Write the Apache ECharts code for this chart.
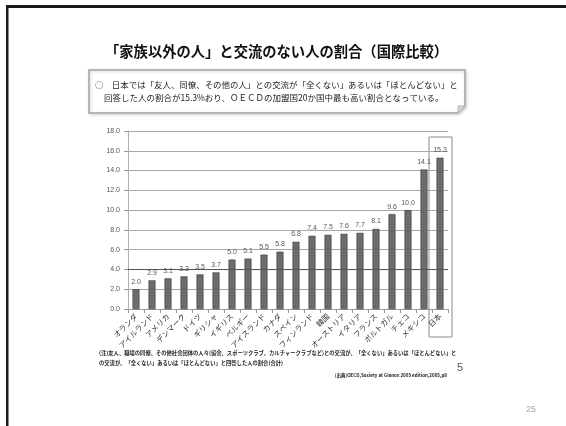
<!DOCTYPE html>
<html>
<head>
<meta charset="utf-8">
<script src="https://cdn.jsdelivr.net/npm/echarts@6/dist/echarts.min.js"></script>
<style>
  html, body { margin: 0; padding: 0; background: #ffffff; }
  #chart { width: 566px; height: 426px; }
</style>
</head>
<body>
<div id="chart"></div>
<script>
// 「家族以外の人」と交流のない人の割合（%）
const countries = ['オランダ', 'アイルランド', 'アメリカ', 'デンマーク', 'ドイツ', 'ギリシャ', 'イギリス', 'ベルギー', 'アイスランド', 'カナダ', 'スペイン', 'フィンランド', '韓国', 'オーストリア', 'イタリア', 'フランス', 'ポルトガル', 'チェコ', 'メキシコ', '日本'];
const shares = [2.0, 2.9, 3.1, 3.3, 3.5, 3.7, 5.0, 5.1, 5.5, 5.8, 6.8, 7.4, 7.5, 7.6, 7.7, 8.1, 9.6, 10.0, 14.1, 15.3];
const yTicks = [0, 2, 4, 6, 8, 10, 12, 14, 16, 18];

const titleText = '「家族以外の人」と交流のない人の割合（国際比較）';
const summaryLines = [
  '○　日本では「友人、同僚、その他の人」との交流が「全くない」あるいは「ほとんどない」と',
  '回答した人の割合が15.3%おり、ＯＥＣＤの加盟国20か国中最も高い割合となっている。'
];
const noteLines = [
  '(注)友人、職場の同僚、その他社会団体の人々(協会、スポーツクラブ、カルチャークラブなど)との交流が、「全くない」あるいは「ほとんどない」と',
  'の交流が、「全くない」あるいは「ほとんどない」と回答した人の割合(合計)'
];
const sourceText = '(出典)OECD,Society at Glance:2005 edition,2005,p8';

const jp = '"Noto Sans CJK JP", "Noto Sans", sans-serif';
const chart = echarts.init(document.getElementById('chart'), null, { renderer: 'canvas' });

chart.setOption({
  animation: false,
  backgroundColor: '#ffffff',
  textStyle: { fontFamily: jp },
  grid: { left: 128, right: 118, top: 131, bottom: 117, containLabel: false },
  xAxis: {
    type: 'category',
    data: countries,
    axisLine: { lineStyle: { color: '#9a9a9a', width: 1 } },
    axisTick: { show: true, length: 4, lineStyle: { color: '#9a9a9a' } },
    axisLabel: {
      interval: 0,
      rotate: 45,
      fontSize: 7.5,
      color: '#333',
      margin: 6,
      fontFamily: jp
    }
  },
  yAxis: {
    type: 'value',
    min: yTicks[0],
    max: yTicks[yTicks.length - 1],
    interval: 2,
    axisLine: { show: true, lineStyle: { color: '#b0b0b0', width: 1 } },
    axisTick: { show: true, length: 4, lineStyle: { color: '#9a9a9a' } },
    axisLabel: {
      fontSize: 7,
      color: '#555',
      margin: 8,
      formatter: v => v.toFixed(1),
      fontFamily: '"Liberation Sans", sans-serif'
    },
    splitLine: { lineStyle: { color: '#a8a8a8', width: 1 } }
  },
  series: [{
    type: 'bar',
    data: shares,
    barWidth: 7,
    itemStyle: { color: '#6c6c6c', borderColor: '#3c3c3c', borderWidth: 0.6 },
    label: {
      show: true,
      position: 'top',
      distance: 4,
      fontSize: 7,
      color: '#555',
      formatter: p => p.value.toFixed(1),
      fontFamily: '"Liberation Sans Narrow", "Liberation Sans", sans-serif'
    },
    markLine: {
      silent: true,
      symbol: 'none',
      label: { show: false },
      lineStyle: { color: '#555', width: 1, type: 'solid' },
      data: [{ yAxis: 4 }]
    }
  }],
  graphic: [
    // slide frame: top and left edges
    { type: 'rect', shape: { x: 6, y: 5, width: 560, height: 3 }, style: { fill: '#1a1a1a' } },
    { type: 'rect', shape: { x: 6, y: 5, width: 2.5, height: 421 }, style: { fill: '#1a1a1a' } },
    // heading
    {
      type: 'text', left: 105, top: 44,
      style: { text: titleText, font: 'bold 14.3px ' + jp, fill: '#111' }
    },
    // summary callout box with folded corner
    {
      type: 'polygon',
      shape: { points: [[89, 70], [465, 70], [465, 106], [458, 113], [89, 113]] },
      style: { fill: '#ffffff', stroke: '#b5b5b5', lineWidth: 2, shadowColor: 'rgba(0,0,0,0.15)', shadowBlur: 3, shadowOffsetX: 1, shadowOffsetY: 1 }
    },
    {
      type: 'polygon',
      shape: { points: [[465, 106], [458, 106], [458, 113]] },
      style: { fill: '#d5d5d5', stroke: '#b5b5b5', lineWidth: 1 }
    },
    {
      type: 'text', left: 95, top: 81,
      style: { text: summaryLines[0], font: '8.45px ' + jp, fill: '#222' }
    },
    {
      type: 'text', left: 104, top: 94,
      style: { text: summaryLines[1], font: '8.5px ' + jp, fill: '#222' }
    },
    // highlight frame around Japan
    {
      type: 'rect',
      shape: { x: 429, y: 137, width: 23, height: 200 },
      style: { fill: 'none', stroke: '#8a8a8a', lineWidth: 1 }
    },
    // notes and source
    {
      type: 'text', left: 99, top: 350,
      style: { text: noteLines[0], font: 'bold 5.3px ' + jp, fill: '#222' }
    },
    {
      type: 'text', left: 99, top: 360,
      style: { text: noteLines[1], font: 'bold 5.3px ' + jp, fill: '#222' }
    },
    {
      type: 'text', right: 119, top: 373,
      style: { text: sourceText, font: 'bold 4.5px ' + jp, fill: '#222' }
    },
    {
      type: 'text', left: 457, top: 362,
      style: { text: '5', font: '11px "Liberation Sans", sans-serif', fill: '#555' }
    },
    {
      type: 'text', left: 526, top: 405,
      style: { text: '25', font: '9px "Liberation Sans", sans-serif', fill: '#aaa' }
    }
  ]
});
</script>
</body>
</html>
